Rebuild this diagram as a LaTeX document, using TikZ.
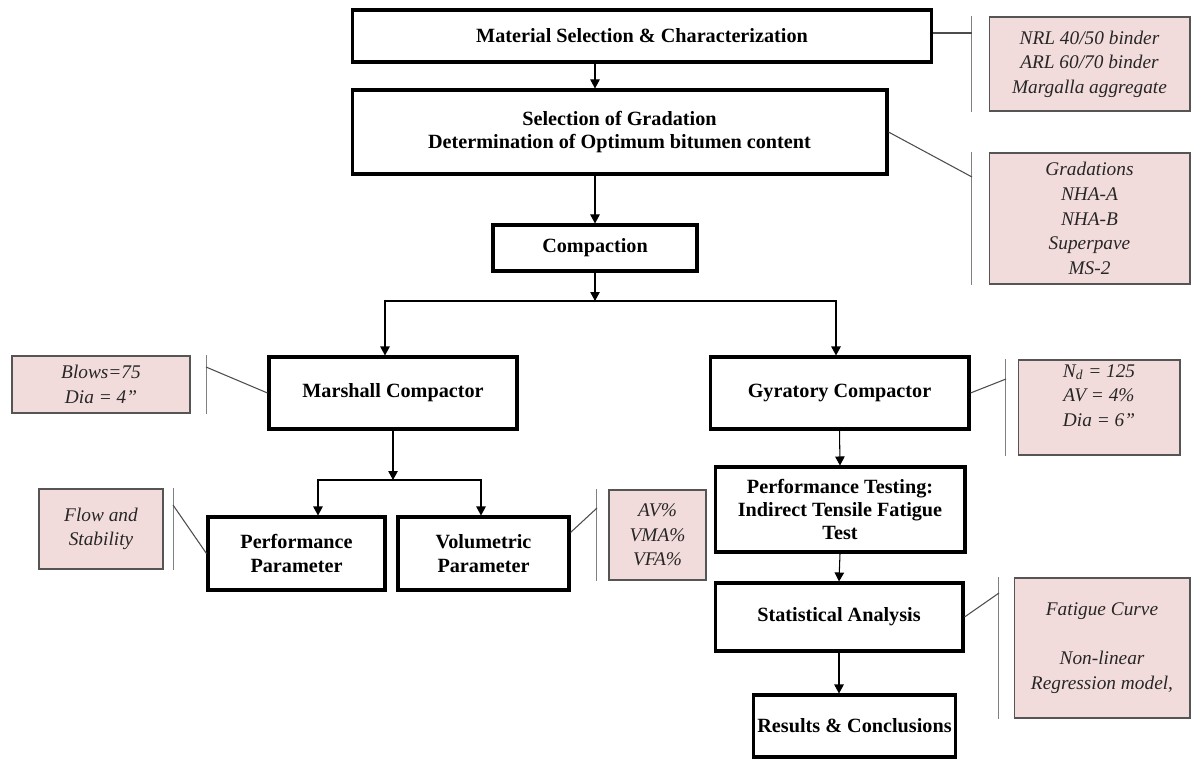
\documentclass[tikz,border=0pt]{standalone}
\usepackage{fontspec}
\setmainfont{Liberation Serif}
\usetikzlibrary{arrows.meta}
\definecolor{notefill}{RGB}{242,220,219}
\definecolor{noteline}{RGB}{85,85,85}
\definecolor{brk}{RGB}{128,128,128}

\begin{document}
\begin{tikzpicture}[x=0.02cm,y=-0.02cm,line width=0.6pt,>={Triangle[length=1.8mm,width=1.9mm]},
  mainbox/.style={draw,line width=1.75pt,align=center,inner sep=2pt,font=\fontsize{11.5}{13.2}\selectfont\bfseries},
  notebox/.style={draw=noteline,fill=notefill,line width=0.6pt,align=center,inner sep=2pt,text=black!85,font=\fontsize{11}{14}\selectfont\itshape},
  brace/.style={brk,line width=0.9pt},
  tie/.style={black!70,line width=0.6pt}]
  \useasboundingbox (0,0) rectangle (1192,760);
  % main flow
  \node[mainbox,minimum width=11.6cm,minimum height=1.04cm] (mat) at (642,36) {Material Selection \& Characterization};
  \node[mainbox,minimum width=10.7cm,minimum height=1.68cm] (sel) at (619.5,132) {Selection of Gradation\\Determination of Optimum bitumen content};
  \node[mainbox,minimum width=4.08cm,minimum height=0.92cm] (comp) at (595,248) {Compaction};
  \node[mainbox,minimum width=4.96cm,minimum height=1.44cm] (mar) at (393,393) {Marshall Compactor};
  \node[mainbox,minimum width=5.18cm,minimum height=1.44cm] (gyr) at (839.5,393) {Gyratory Compactor};
  \node[mainbox,minimum width=3.54cm,minimum height=1.46cm] (perf) at (296.5,553.5) {Performance\\Parameter};
  \node[mainbox,minimum width=3.42cm,minimum height=1.46cm] (vol) at (483.5,553.5) {Volumetric\\Parameter};
  \node[mainbox,minimum width=5.0cm,minimum height=1.7cm] (itft) at (840,509.5) {Performance Testing:\\Indirect Tensile Fatigue\\Test};
  \node[mainbox,minimum width=4.96cm,minimum height=1.36cm] (stat) at (839,617) {Statistical Analysis};
  \node[mainbox,minimum width=3.98cm,minimum height=1.24cm] (res) at (854.5,726) {Results \& Conclusions};
  % side notes
  \node[notebox,minimum width=4.02cm,minimum height=1.88cm] (nrl) at (1089.5,64) {NRL 40/50 binder\\ARL 60/70 binder\\Margalla aggregate};
  \node[notebox,minimum width=4.02cm,minimum height=2.62cm] (grad) at (1089.5,218.5) {Gradations\\NHA-A\\NHA-B\\Superpave\\MS-2};
  \node[notebox,minimum width=3.56cm,minimum height=1.14cm] (blows) at (101,384.5) {Blows=75\\Dia = 4”};
  \node[notebox,minimum width=3.24cm,minimum height=1.9cm] (nd) at (1099,407.5) {N\textsubscript{d} = 125\\AV = 4\%\\Dia = 6”\\~};
  \node[notebox,minimum width=2.48cm,minimum height=1.6cm] (flow) at (101,529) {Flow and\\Stability};
  \node[notebox,minimum width=1.94cm,minimum height=1.8cm] (av) at (657.5,535) {AV\%\\VMA\%\\VFA\%};
  \node[notebox,minimum width=3.52cm,minimum height=2.8cm] (fat) at (1102,648) {Fatigue Curve\\~\\Non-linear\\Regression model,};
  % arrows
  \coordinate (split) at (595,301);
  \coordinate (msplit) at (393,480);
  \draw[->] (mat.south -| comp) -- (sel.north -| comp);
  \draw[->] (sel.south -| comp) -- (comp.north);
  \draw[->] (comp.south) -- (split);
  \draw[->] (split) -| ([xshift=-0.16cm]mar.north);
  \draw[->] (split) -| ([xshift=-0.07cm]gyr.north);
  \draw[->] (mar.south) -- (msplit);
  \draw[->] (msplit) -| ([xshift=0.43cm]perf.north);
  \draw[->] (msplit) -| ([xshift=-0.05cm]vol.north);
  \draw[->] (gyr.south) -- (itft.north);
  \draw[->] (itft.south) -- (stat.north);
  \draw[->] (stat.south) -- (stat.south |- res.north);
  % brackets
  \draw[brace] ([xshift=-0.34cm]nrl.north west) -- ([xshift=-0.34cm]nrl.south west);
  \draw[brace] ([xshift=-0.34cm]grad.north west) -- ([xshift=-0.34cm]grad.south west);
  \draw[brace] ([xshift=0.32cm]blows.north east) -- ([xshift=0.32cm]blows.south east);
  \draw[brace] ([xshift=-0.24cm]nd.north west) -- ([xshift=-0.24cm]nd.south west);
  \draw[brace] ([xshift=0.2cm]flow.north east) -- ([xshift=0.2cm]flow.south east);
  \draw[brace] ([xshift=-0.24cm]av.north west) -- ([xshift=-0.24cm]av.south west);
  \draw[brace] ([xshift=-0.3cm]fat.north west) -- ([xshift=-0.3cm]fat.south west);
  % ties to brackets
  \coordinate (nrlk) at (972,33);
  \coordinate (gradk) at (972,177);
  \coordinate (blowsk) at (206,367);
  \coordinate (ndk) at (1006,379);
  \coordinate (flowk) at (173,505);
  \coordinate (avk) at (597,508);
  \coordinate (fatk) at (999,593);
  \draw[tie] (mat.east |- nrlk) -- (nrlk);
  \draw[tie] (sel.east) -- (gradk);
  \draw[tie] (mar.west) -- (blowsk);
  \draw[tie] (gyr.east) -- (ndk);
  \draw[tie] (perf.west) -- (flowk);
  \draw[tie] ([yshift=0.42cm]vol.east) -- (avk);
  \draw[tie] (stat.east) -- (fatk);
\end{tikzpicture}
\end{document}
